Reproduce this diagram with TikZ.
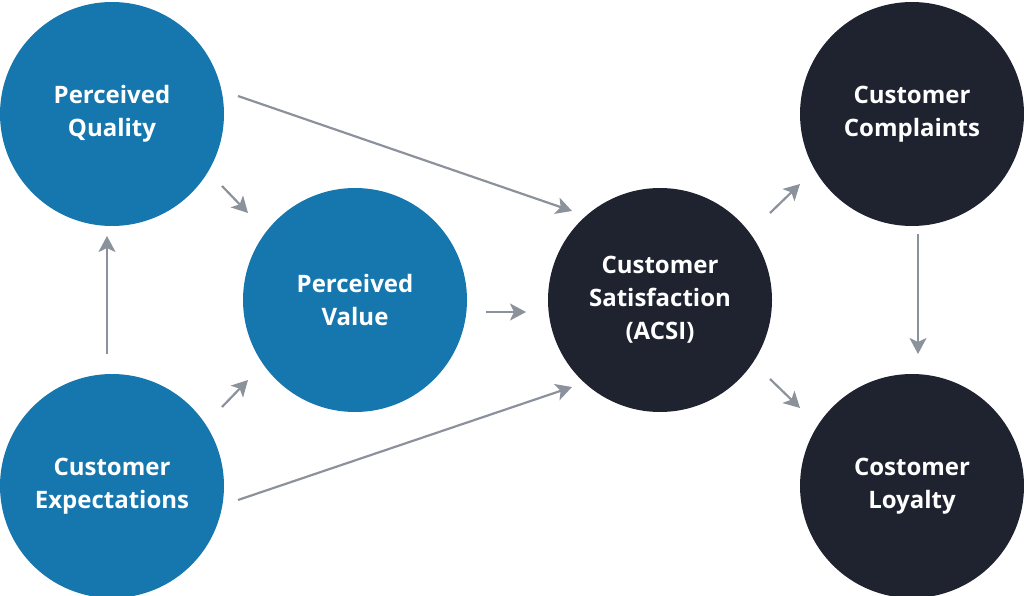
\documentclass[tikz,border=0pt]{standalone}
\usepackage{fontspec}
\setmainfont{Open Sans}
\usetikzlibrary{arrows.meta}
\definecolor{cblue}{HTML}{1677AE}
\definecolor{cdark}{HTML}{1F222F}
\definecolor{cgray}{HTML}{8C929B}
\begin{document}
\begin{tikzpicture}[x=1pt,y=-1pt,
  circ/.style={circle,minimum size=224pt,inner sep=0pt,text=white,align=center,
    font=\fontsize{24}{33}\selectfont\bfseries},
  bl/.style={circ,fill=cblue}, dk/.style={circ,fill=cdark},
  arr/.style={draw=cgray,line width=2.2pt,-{Stealth[length=16pt,width=17pt,inset=4pt]}}]
\useasboundingbox (0,0) rectangle (1024,596);
\node[bl] (pq) at (112,114) {Perceived\\Quality};
\node[bl] (ce) at (112,486) {Customer\\Expectations};
\node[bl] (pv) at (355,300) {Perceived\\Value};
\node[dk] (cs) at (660,300) {Customer\\Satisfaction\\(ACSI)};
\node[dk] (cc) at (912,114) {Customer\\Complaints};
\node[dk] (cl) at (912,486) {Costomer\\Loyalty};
\coordinate (a1) at (238,96); \coordinate (b1) at (572,211);
\coordinate (a2) at (222,186); \coordinate (b2) at (248,213);
\coordinate (a3) at (107,354); \coordinate (b3) at (107,236);
\coordinate (a4) at (222,407); \coordinate (b4) at (248,380);
\coordinate (a5) at (238,500); \coordinate (b5) at (572,387);
\coordinate (a6) at (486,312); \coordinate (b6) at (526,312);
\coordinate (a7) at (770,213); \coordinate (b7) at (800,184);
\coordinate (a8) at (770,379); \coordinate (b8) at (800,408);
\coordinate (a9) at (918,234); \coordinate (b9) at (918,354);
\foreach \i in {1,...,9} \draw[arr] (a\i) -- (b\i);
\end{tikzpicture}
\end{document}
